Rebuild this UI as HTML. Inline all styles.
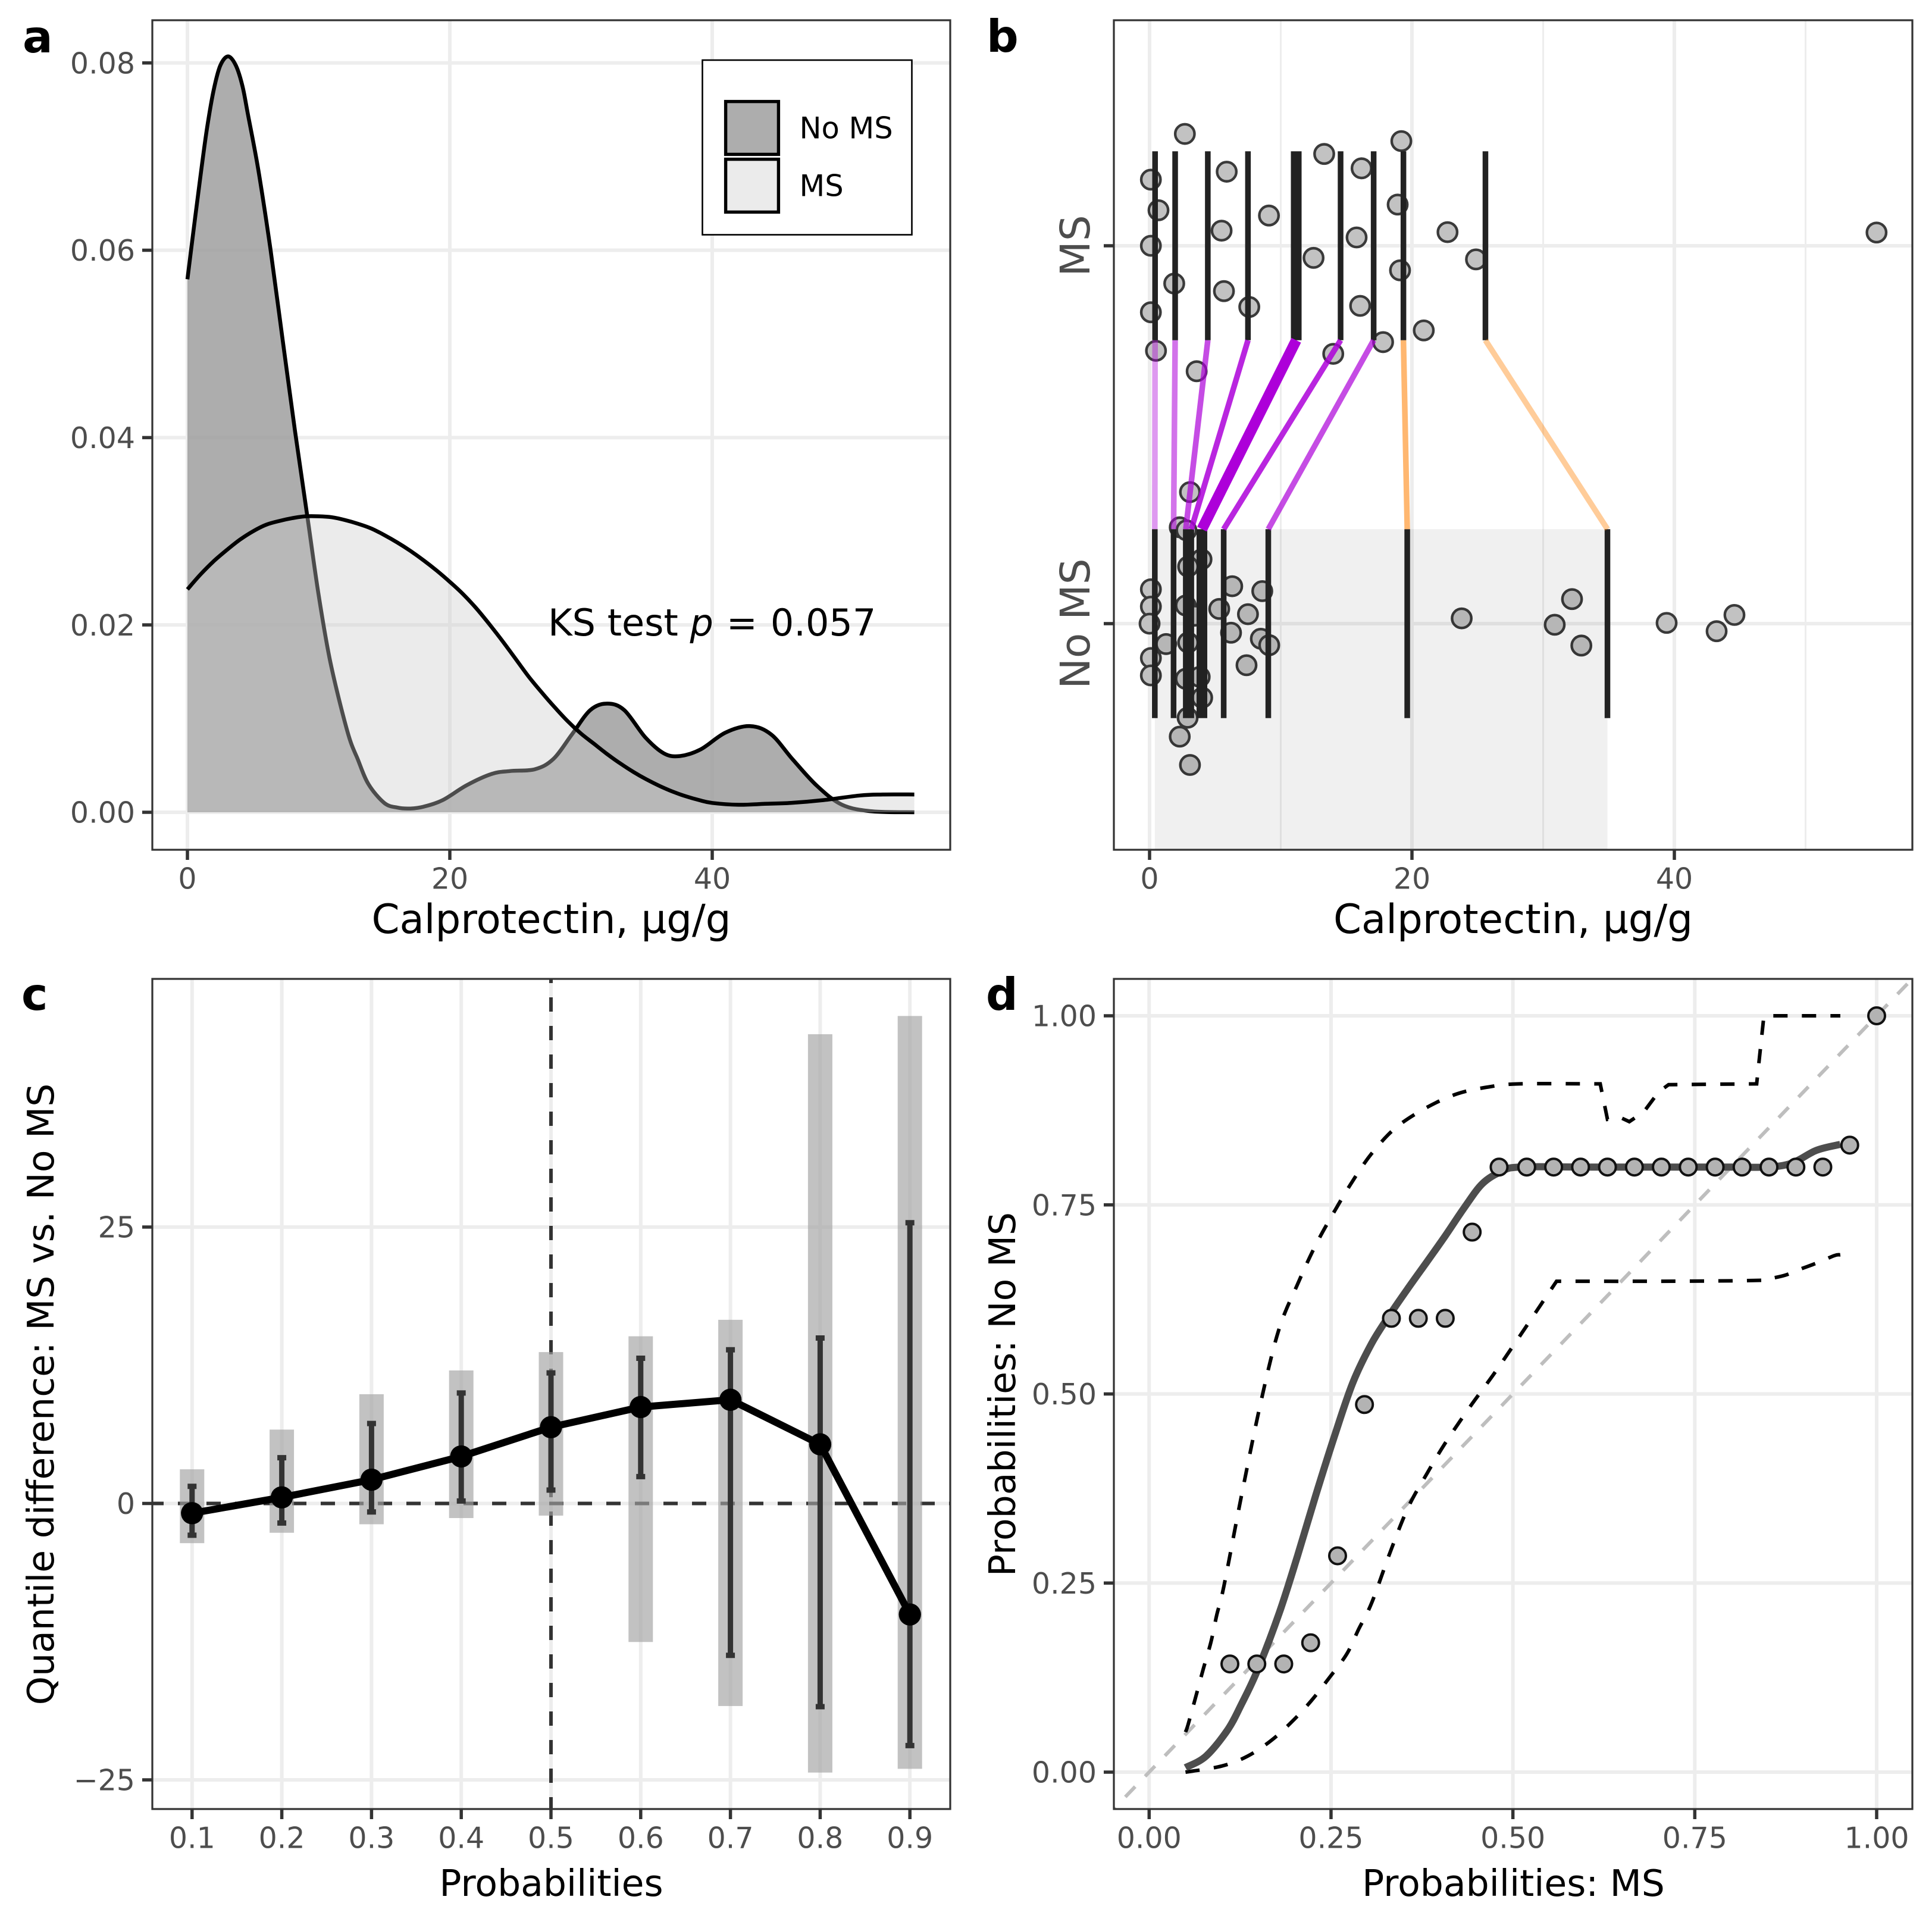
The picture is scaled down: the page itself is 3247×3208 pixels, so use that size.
<!DOCTYPE html>
<html lang="en">
<head>
<meta charset="utf-8">
<title>Calprotectin distributions in MS vs. No MS</title>
<style>
  html, body { margin: 0; padding: 0; background: #fff; }
  svg { display: block; }
  text { font-family: "DejaVu Sans", "Liberation Sans", sans-serif; }
</style>
</head>
<body>
<svg id="figure" xmlns="http://www.w3.org/2000/svg" width="3247" height="3208" viewBox="0 0 3247 3208">
  <defs>
    <clipPath id="clip-a"><rect x="256" y="34" width="1341" height="1394"/></clipPath>
    <clipPath id="clip-b"><rect x="1872" y="34" width="1342" height="1394"/></clipPath>
    <clipPath id="clip-c"><rect x="256" y="1645" width="1341" height="1395"/></clipPath>
    <clipPath id="clip-d"><rect x="1872" y="1645" width="1342" height="1395"/></clipPath>
  </defs>
</svg>
<script>
/* ---------- Panel a data ---------- */
const densityNoMsX = [0,0.5,1,1.5,2,2.5,3.1,3.7,4.2,4.6,5.4,6.33,7.26,8.2,9.14,10,10.9,12.2,13,13.8,15,16,17,18,19.46,21.3,23.2,24.6,26.5,27.9,29.3,30.7,32,33.3,34.9,36.3,37.5,39.1,41,42.9,44.5,46.1,48,49.9,52.2,55.4];
const densityNoMsY = [0.0569,0.0625,0.068,0.0731,0.0771,0.0797,0.0807,0.0797,0.0775,0.0746,0.0686,0.0601,0.0504,0.0407,0.0316,0.0232,0.016,0.0086,0.0056,0.003,0.001,0.0005,0.0004,0.0006,0.0013,0.0029,0.0041,0.0044,0.0046,0.0057,0.0083,0.0109,0.0116,0.0109,0.008,0.0063,0.006,0.0067,0.0085,0.0092,0.0083,0.0057,0.0028,0.0008,0.0001,0];
const densityMsX = [0,1,2,3,4,5,6,7,8,9,10,11,12,13,14,15,16,17,18,19,20,21,22,23,24,25,26,27,28,29,30,31,32,33,34,35,36,37,38,39,40,42,44,46,48.5,51.3,53,55.4];
const densityMsY = [0.0238,0.0254,0.0268,0.028,0.0291,0.03,0.0307,0.0311,0.0314,0.0316,0.0316,0.0315,0.0312,0.0308,0.0303,0.0296,0.0288,0.0279,0.0269,0.0258,0.0246,0.0233,0.0218,0.0201,0.0183,0.0164,0.0145,0.0128,0.0112,0.0097,0.0084,0.0073,0.0062,0.0052,0.0043,0.0035,0.0028,0.0022,0.0017,0.0013,0.001,0.0008,0.0009,0.001,0.0013,0.0018,0.0019,0.0019];
const aXTicks = [0,20,40];
const aXTickLabels = ["0","20","40"];
const aYTicks = [0,0.02,0.04,0.06,0.08];
const aYTickLabels = ["0.00","0.02","0.04","0.06","0.08"];

/* ---------- Panel b data ---------- */
const msValues = [2.69,13.31,19.19,5.88,16.16,0.1,0.68,18.91,9.1,5.49,15.78,22.71,0.1,12.5,24.88,19.09,1.88,5.67,7.6,0.1,16.05,20.9,17.8,0.49,14,3.59,55.41];
const msJitter = [0.296,0.243,0.277,0.196,0.205,0.175,0.094,0.109,0.08,0.04,0.022,0.036,0,-0.032,-0.036,-0.065,-0.1,-0.12,-0.162,-0.176,-0.159,-0.224,-0.255,-0.278,-0.286,-0.332,0.035];
const noMsValues = [3.08,2.3,2.81,3.96,2.94,0.1,6.3,8.59,0.1,2.76,3.45,5.31,7.5,0,23.79,6.21,1.26,2.94,8.48,9.12,0.1,7.39,0.1,2.76,3.82,4.01,2.9,2.3,3.08,32.2,30.88,32.91,39.41,43.22,44.58];
const noMsJitter = [0.348,0.255,0.247,0.17,0.151,0.091,0.099,0.086,0.045,0.048,0.021,0.039,0.025,0,0.014,-0.024,-0.054,-0.05,-0.04,-0.057,-0.091,-0.11,-0.137,-0.146,-0.141,-0.196,-0.249,-0.299,-0.374,0.065,-0.003,-0.058,0.002,-0.02,0.023];
const msDeciles = [0.42,1.95,4.44,7.5,11.18,14.56,17.08,19.35,25.6];
const noMsDeciles = [0.4,1.83,2.76,3.18,3.99,5.65,9.05,19.64,34.9];
const bXTicks = [0,20,40];
const bXTickLabels = ["0","20","40"];
const bXMinorTicks = [10,30,50];
const bGroups = [2,1];
const bGroupLabels = ["MS","No MS"];

/* ---------- Panel c data ---------- */
const cProbabilities = [0.1,0.2,0.3,0.4,0.5,0.6,0.7,0.8,0.9];
const cProbabilityLabels = ["0.1","0.2","0.3","0.4","0.5","0.6","0.7","0.8","0.9"];
const cDifference = [-0.88,0.55,2.15,4.25,6.9,8.72,9.38,5.35,-10.04];
const cInnerUpper = [1.55,4.14,7.23,9.99,11.81,13.13,13.9,14.96,25.39];
const cInnerLower = [-2.87,-1.77,-0.77,0.22,1.21,2.43,-13.74,-18.38,-21.9];
const cOuterUpper = [3.09,6.68,9.88,12.03,13.69,15.12,16.61,42.44,44.09];
const cOuterLower = [-3.59,-2.65,-1.88,-1.32,-1.1,-12.53,-18.32,-24.34,-24];
const cYTicks = [-25,0,25];
const cYTickLabels = ["\u221225","0","25"];

/* ---------- Panel d data ---------- */
const ppPointMs = [0.111,0.148,0.185,0.222,0.259,0.296,0.333,0.37,0.407,0.444,0.481,0.519,0.556,0.593,0.63,0.667,0.704,0.741,0.778,0.815,0.852,0.889,0.926,0.963,1];
const ppPointNoMs = [0.143,0.143,0.143,0.171,0.286,0.486,0.6,0.6,0.6,0.714,0.8,0.8,0.8,0.8,0.8,0.8,0.8,0.8,0.8,0.8,0.8,0.8,0.8,0.829,1];
const ppSmoothX = [0.05,0.078,0.108,0.127,0.149,0.179,0.204,0.229,0.255,0.28,0.306,0.331,0.356,0.382,0.407,0.433,0.458,0.484,0.509,0.6,0.7,0.8,0.849,0.883,0.917,0.95];
const ppSmoothY = [0.006,0.021,0.056,0.09,0.135,0.211,0.286,0.366,0.445,0.515,0.567,0.605,0.64,0.675,0.709,0.746,0.778,0.794,0.8,0.8,0.8,0.8,0.8,0.805,0.822,0.83];
const ppUpperX = [0.05,0.0535,0.0644,0.074,0.0848,0.093,0.1026,0.127,0.153,0.178,0.204,0.229,0.255,0.28,0.306,0.339,0.382,0.424,0.467,0.509,0.62,0.63,0.649,0.66,0.68,0.7,0.714,0.835,0.845,0.95];
const ppUpperY = [0.053,0.0627,0.1007,0.135,0.1715,0.208,0.245,0.366,0.487,0.584,0.645,0.697,0.742,0.782,0.818,0.852,0.879,0.897,0.906,0.91,0.91,0.863,0.865,0.86,0.873,0.899,0.909,0.91,1,1];
const ppLowerX = [0.05,0.0997,0.135,0.168,0.1966,0.2225,0.247,0.2715,0.288,0.306,0.331,0.356,0.382,0.407,0.441,0.475,0.509,0.56,0.7,0.832,0.85,0.874,0.895,0.92,0.942,0.95];
const ppLowerY = [0,0.008,0.021,0.042,0.067,0.094,0.124,0.156,0.189,0.224,0.29,0.35,0.395,0.435,0.483,0.528,0.576,0.649,0.649,0.65,0.652,0.657,0.665,0.674,0.683,0.684];
const dTicks = [0,0.25,0.5,0.75,1];
const dTickLabels = ["0.00","0.25","0.50","0.75","1.00"];
const dDiagonal = [-0.06,1.06];

/* ---------- Axis functions ---------- */
const axA = v => 315 + v * 22.05;
const ayA = v => 1365 - v * 15741;
const axB = v => 1932 + v * 22.05;
const ayB = v => 1048 - (v - 1) * 635;
const axC = v => 926 + (v - 0.5) * 1508;
const ayC = v => 2526.5 - v * 18.58;
const axD = v => 1931.3 + v * 1222.7;
const ayD = v => 2978 - v * 1271;

/* ---------- Styling (not data) ---------- */
const GRID = "#ededed";
const connectorColors = ["rgba(173,0,217,.4)","rgba(173,0,217,.55)","rgba(173,0,217,.7)","rgba(173,0,217,.85)","rgb(173,0,217)","rgba(173,0,217,.85)","rgba(173,0,217,.7)","rgba(255,127,0,.56)","rgba(255,127,0,.4)"];

const NS = "http://www.w3.org/2000/svg";
const root = document.getElementById("figure");

function make(parent, tag, attrs, txt) {
  const el = document.createElementNS(NS, tag);
  for (const k in attrs) el.setAttribute(k, attrs[k]);
  if (txt !== undefined) el.textContent = txt;
  parent.appendChild(el);
  return el;
}
function group(parent, name, clip) {
  const g = make(parent, "g", clip ? { "clip-path": "url(#" + clip + ")" } : {});
  
  
  return g;
}
function spline(xs, ys) {
  let d = "M" + xs[0].toFixed(1) + " " + ys[0].toFixed(1);
  for (let i = 0; i < xs.length - 1; i++) {
    const i0 = Math.max(i - 1, 0), i3 = Math.min(i + 2, xs.length - 1);
    const c1x = xs[i] + (xs[i + 1] - xs[i0]) / 6, c1y = ys[i] + (ys[i + 1] - ys[i0]) / 6;
    const c2x = xs[i + 1] - (xs[i3] - xs[i]) / 6, c2y = ys[i + 1] - (ys[i3] - ys[i]) / 6;
    d += "C" + c1x.toFixed(1) + " " + c1y.toFixed(1) + " " + c2x.toFixed(1) + " " + c2y.toFixed(1) + " " + xs[i + 1].toFixed(1) + " " + ys[i + 1].toFixed(1);
  }
  return d;
}
function polyline(xs, ys) {
  return xs.map((x, i) => (i ? "L" : "M") + x.toFixed(1) + " " + ys[i].toFixed(1)).join("");
}
/* smooth up to the index where the series kinks, straight segments or a new spline afterwards */
function splineThenLine(xs, ys, k) {
  return spline(xs.slice(0, k + 1), ys.slice(0, k + 1)) + polyline(xs.slice(k), ys.slice(k)).replace("M", "L");
}
function splineBreak(xs, ys, k) {
  return spline(xs.slice(0, k + 1), ys.slice(0, k + 1)) + spline(xs.slice(k), ys.slice(k)).replace("M", "L");
}

function panelBackground(parent, x0, y0, x1, y1) {
  const bg = make(parent, "rect", { x: x0, y: y0, width: x1 - x0, height: y1 - y0, fill: "#fff" });
  
  
}
function gridV(parent, vals, fx, y0, y1, w) {
  vals.forEach(v => {
    const l = make(parent, "line", { x1: fx(v), x2: fx(v), y1: y0, y2: y1, stroke: GRID, "stroke-width": w });
    
    
  });
}
function gridH(parent, vals, fy, x0, x1, w) {
  vals.forEach(v => {
    const l = make(parent, "line", { x1: x0, x2: x1, y1: fy(v), y2: fy(v), stroke: GRID, "stroke-width": w });
    
    
  });
}
function xAxis(parent, vals, labels, fx, yBottom) {
  vals.forEach((v, i) => {
    const t = make(parent, "line", { x1: fx(v), x2: fx(v), y1: yBottom, y2: yBottom + 17, stroke: "#333", "stroke-width": 5.5 });
    
    
    const s = make(parent, "text", { x: fx(v), y: yBottom + 65.7, "text-anchor": "middle", "font-size": 49, fill: "#4d4d4d" }, labels[i]);
    
    
  });
}
function yAxis(parent, vals, labels, fy, xLeft) {
  vals.forEach((v, i) => {
    const t = make(parent, "line", { x1: xLeft - 17, x2: xLeft, y1: fy(v), y2: fy(v), stroke: "#333", "stroke-width": 5.5 });
    
    
    const s = make(parent, "text", { x: xLeft - 29, y: fy(v) + 17.7, "text-anchor": "end", "font-size": 49, fill: "#4d4d4d" }, labels[i]);
    
    
  });
}
function border(parent, x0, y0, x1, y1) {
  const r = make(parent, "rect", { x: x0, y: y0, width: x1 - x0, height: y1 - y0, fill: "none", stroke: "#333", "stroke-width": 3.2 });
  
  
}
function title(parent, name, str, x, y, size, rotate, fill, weight) {
  const a = { x: x, y: y, "text-anchor": "middle", "font-size": size, fill: fill || "#000" };
  if (rotate) a.transform = "rotate(-90 " + x + " " + y + ")";
  if (weight) a["font-weight"] = weight;
  const t = make(parent, "text", a, str);
  
  
  return t;
}
function panelTag(str, x, y) {
  const t = make(root, "text", { x: x, y: y, "font-size": 75, "font-weight": "bold", fill: "#000" }, str);
  
  
}

/* ---------- Panel a ---------- */
(function () {
  const p = group(root, "panel-a-density");
  panelBackground(p, 256, 34, 1597, 1428);
  gridV(p, aXTicks, axA, 34, 1428, 6);
  gridH(p, aYTicks, ayA, 256, 1597, 6);
  const c = group(p, "density-marks", "clip-a");
  const nx = densityNoMsX.map(axA), ny = densityNoMsY.map(ayA);
  const mx = densityMsX.map(axA), my = densityMsY.map(ayA);
  const base = ayA(0);
  const areaN = make(c, "path", { d: spline(nx, ny) + "L" + nx[nx.length - 1] + " " + base + "L" + nx[0] + " " + base + "Z", fill: "rgba(152,152,152,.8)" });
  
  
  const lineN = make(c, "path", { d: spline(nx, ny), fill: "none", stroke: "#000", "stroke-width": 6.5 });
  
  
  const areaM = make(c, "path", { d: spline(mx, my) + "L" + mx[mx.length - 1] + " " + base + "L" + mx[0] + " " + base + "Z", fill: "rgba(202,202,202,.378)" });
  
  
  const lineM = make(c, "path", { d: spline(mx, my), fill: "none", stroke: "#000", "stroke-width": 6.5 });
  
  
  border(p, 256, 34, 1597, 1428);
  xAxis(p, aXTicks, aXTickLabels, axA, 1428);
  yAxis(p, aYTicks, aYTickLabels, ayA, 256);
  title(p, "x-axis-title", "Calprotectin, \u00b5g/g", 926.5, 1568, 67.4);
  const ks = make(p, "text", { x: 921, y: 1068, "font-size": 62, fill: "#000", "xml:space": "preserve" });
  
  
  make(ks, "tspan", {}, "KS test ");
  make(ks, "tspan", { "font-style": "italic" }, "p");
  make(ks, "tspan", { dx: 22 }, "=");
  make(ks, "tspan", { dx: 22 }, "0.057");

  const lg = group(p, "legend");
  const box = make(lg, "rect", { x: 1180.5, y: 101, width: 352, height: 293.5, fill: "#fff", stroke: "#000", "stroke-width": 2.6 });
  
  
  const k1 = make(lg, "rect", { x: 1219.6, y: 170.6, width: 88.8, height: 88.8, fill: "#adadad", stroke: "#000", "stroke-width": 5.4 });
  
  
  const k2 = make(lg, "rect", { x: 1219.6, y: 267.6, width: 88.8, height: 88.8, fill: "#ebebeb", stroke: "#000", "stroke-width": 5.4 });
  
  
  const t1 = make(lg, "text", { x: 1343.5, y: 232.7, "font-size": 49.5, fill: "#000" }, "No MS");
  
  
  const t2 = make(lg, "text", { x: 1343.5, y: 329.3, "font-size": 49.5, fill: "#000" }, "MS");
  
  
})();

/* ---------- Panel b ---------- */
(function () {
  const p = group(root, "panel-b-shift-plot");
  panelBackground(p, 1872, 34, 3214, 1428);
  gridV(p, bXMinorTicks, axB, 34, 1428, 3);
  gridV(p, bXTicks, axB, 34, 1428, 6);
  gridH(p, bGroups, ayB, 1872, 3214, 6);
  const c = group(p, "shift-marks", "clip-b");
  function dots(values, jitter, center, name) {
    values.forEach((v, i) => {
      const d = make(c, "circle", { cx: axB(v), cy: ayB(center + jitter[i]), r: 16.2, fill: "#c2c2c2", stroke: "#3a3a3a", "stroke-width": 4.4 });
      
      
    });
  }
  dots(msValues, msJitter, 2, "ms-point");
  dots(noMsValues, noMsJitter, 1, "no-ms-point");
  const band = make(c, "rect", { x: axB(noMsDeciles[0]), y: ayB(1.25), width: axB(noMsDeciles[noMsDeciles.length - 1]) - axB(noMsDeciles[0]), height: 1428 - ayB(1.25), fill: "rgba(0,0,0,.06)" });
  
  
  msDeciles.forEach((v, i) => {
    const w = i === 4 ? 18 : 9.5;
    const r = make(c, "line", { x1: axB(v), x2: axB(v), y1: ayB(2.25), y2: ayB(1.75), stroke: "#222", "stroke-width": w });
    
    
  });
  noMsDeciles.forEach((v, i) => {
    const w = i === 4 ? 18 : 9.5;
    const r = make(c, "line", { x1: axB(v), x2: axB(v), y1: ayB(1.25), y2: ayB(0.75), stroke: "#222", "stroke-width": w });
    
    
  });
  msDeciles.forEach((v, i) => {
    const w = i === 4 ? 18 : 9.5;
    const l = make(c, "line", { x1: axB(v), y1: ayB(1.75), x2: axB(noMsDeciles[i]), y2: ayB(1.25), stroke: connectorColors[i], "stroke-width": w });
    
    
  });
  border(p, 1872, 34, 3214, 1428);
  xAxis(p, bXTicks, bXTickLabels, axB, 1428);
  bGroups.forEach((g, i) => {
    const t = make(p, "line", { x1: 1855, x2: 1872, y1: ayB(g), y2: ayB(g), stroke: "#333", "stroke-width": 5.5 });
    
    
    title(p, "group-label", bGroupLabels[i], 1831, ayB(g), 69, true, "#4d4d4d");
  });
  title(p, "x-axis-title", "Calprotectin, \u00b5g/g", 2543, 1568, 67.4);
})();

/* ---------- Panel c ---------- */
(function () {
  const p = group(root, "panel-c-quantile-difference");
  panelBackground(p, 256, 1645, 1597, 3040);
  gridV(p, cProbabilities, axC, 1645, 3040, 6);
  gridH(p, cYTicks, ayC, 256, 1597, 6);
  const c = group(p, "quantile-marks", "clip-c");
  const hz = make(c, "line", { x1: 256, x2: 1597, y1: ayC(0), y2: ayC(0), stroke: "#333", "stroke-width": 6, "stroke-dasharray": "24 24", "stroke-dashoffset": 5 });
  
  
  const vt = make(c, "line", { x1: axC(0.5), x2: axC(0.5), y1: 1645, y2: 3040, stroke: "#333", "stroke-width": 6, "stroke-dasharray": "24 24", "stroke-dashoffset": 17 });
  
  
  cProbabilities.forEach((q, i) => {
    const y0 = ayC(cOuterUpper[i]), y1 = ayC(cOuterLower[i]);
    const r = make(c, "rect", { x: axC(q) - 20.5, y: y0, width: 41, height: y1 - y0, fill: "rgba(160,160,160,.647)" });
    
    
  });
  cProbabilities.forEach((q, i) => {
    const x = axC(q), y0 = ayC(cInnerUpper[i]), y1 = ayC(cInnerLower[i]);
    const e = make(c, "path", { d: "M" + x + " " + y0 + "V" + y1 + "M" + (x - 7.5) + " " + y0 + "H" + (x + 7.5) + "M" + (x - 7.5) + " " + y1 + "H" + (x + 7.5), fill: "none", stroke: "#333", "stroke-width": 9 });
    
    
  });
  const ln = make(c, "path", { d: polyline(cProbabilities.map(axC), cDifference.map(ayC)), fill: "none", stroke: "#000", "stroke-width": 12, "stroke-linejoin": "round" });
  
  
  cProbabilities.forEach((q, i) => {
    const d = make(c, "circle", { cx: axC(q), cy: ayC(cDifference[i]), r: 18.7, fill: "#000" });
    
    
  });
  border(p, 256, 1645, 1597, 3040);
  xAxis(p, cProbabilities, cProbabilityLabels, axC, 3040);
  yAxis(p, cYTicks, cYTickLabels, ayC, 256);
  title(p, "x-axis-title", "Probabilities", 926.5, 3186, 61.6);
  title(p, "y-axis-title", "Quantile difference: MS vs. No MS", 90, 2343, 61.6, true);
})();

/* ---------- Panel d ---------- */
(function () {
  const p = group(root, "panel-d-pp-plot");
  panelBackground(p, 1872, 1645, 3214, 3040);
  gridV(p, dTicks, axD, 1645, 3040, 6);
  gridH(p, dTicks, ayD, 1872, 3214, 6);
  const c = group(p, "pp-marks", "clip-d");
  const di = make(c, "line", { x1: axD(dDiagonal[0]), y1: ayD(dDiagonal[0]), x2: axD(dDiagonal[1]), y2: ayD(dDiagonal[1]), stroke: "#bebebe", "stroke-width": 6, "stroke-dasharray": "24 24" });
  
  
  const up = make(c, "path", { d: splineThenLine(ppUpperX.map(axD), ppUpperY.map(ayD), ppUpperX.indexOf(0.62)), fill: "none", stroke: "#000", "stroke-width": 6, "stroke-dasharray": "24 24" });
  
  
  const lo = make(c, "path", { d: splineBreak(ppLowerX.map(axD), ppLowerY.map(ayD), ppLowerX.indexOf(0.56)), fill: "none", stroke: "#000", "stroke-width": 6, "stroke-dasharray": "24 24" });
  
  
  const sm = make(c, "path", { d: spline(ppSmoothX.map(axD), ppSmoothY.map(ayD)), fill: "none", stroke: "#4d4d4d", "stroke-width": 12 });
  
  
  ppPointMs.forEach((v, i) => {
    const d = make(c, "circle", { cx: axD(v), cy: ayD(ppPointNoMs[i]), r: 14, fill: "#b3b3b3", stroke: "#111", "stroke-width": 4 });
    
    
  });
  border(p, 1872, 1645, 3214, 3040);
  xAxis(p, dTicks, dTickLabels, axD, 3040);
  yAxis(p, dTicks, dTickLabels, ayD, 1872);
  title(p, "x-axis-title", "Probabilities: MS", 2543.5, 3186, 61.6);
  title(p, "y-axis-title", "Probabilities: No MS", 1706, 2343, 61.6, true);
})();

panelTag("a", 38, 88);
panelTag("b", 1658, 87);
panelTag("c", 36, 1697);
panelTag("d", 1657, 1697);
</script>
</body>
</html>
